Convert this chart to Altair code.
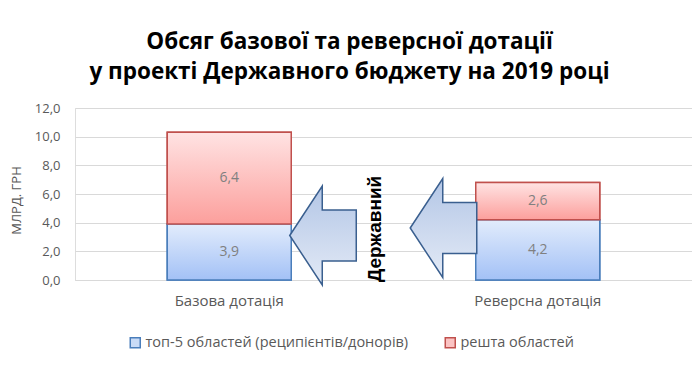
import altair as alt
import pandas as pd

# ---- data ----
categories = ["Базова дотація", "Реверсна дотація"]
top5_values = [3.9, 4.2]
rest_values = [6.4, 2.6]
series_names = ["топ-5 областей (реципієнтів/донорів)", "решта областей"]
title_lines = ["Обсяг базової та реверсної дотації", "у проекті Державного бюджету на 2019 році"]
y_title = "МЛРД. ГРН"
y_ticks = [0, 2, 4, 6, 8, 10, 12]
side_text = "Державний"

rows = []
for c, a, b in zip(categories, top5_values, rest_values):
    rows.append({"cat": c, "series": series_names[0], "y0": 0.0, "y1": a, "v": a})
    rows.append({"cat": c, "series": series_names[1], "y0": a, "y1": a + b, "v": b})
df = pd.DataFrame(rows)

FONT = "Open Sans"
GRAY = "#595959"

blue_grad = alt.LinearGradient(
    gradient="linear", x1=0, y1=0, x2=0, y2=1,
    stops=[alt.GradientStop(offset=0, color="#e2ecfc"), alt.GradientStop(offset=1, color="#a3c1f6")])
red_grad = alt.LinearGradient(
    gradient="linear", x1=0, y1=0, x2=0, y2=1,
    stops=[alt.GradientStop(offset=0, color="#ffe3e3"), alt.GradientStop(offset=1, color="#fc9f9c")])
arrow_grad = alt.LinearGradient(
    gradient="linear", x1=0, y1=0, x2=0, y2=1,
    stops=[alt.GradientStop(offset=0, color="#b3c6e6"), alt.GradientStop(offset=1, color="#e3eaf6")])

x_axis = alt.Axis(labelAngle=0, ticks=False, domainColor="#d9d9d9", labelColor=GRAY,
                  labelFont=FONT, labelFontSize=15, labelPadding=13, grid=False)
x_scale = alt.Scale(paddingInner=0, paddingOuter=0)
y_axis = alt.Axis(values=y_ticks, tickCount=7,
                  labelExpr="replace(format(datum.value, '.1f'), '.', ',')",
                  labelOverlap=False, labelFlush=False,
                  domain=False, ticks=False, gridColor="#d9d9d9", labelColor=GRAY,
                  labelFont=FONT, labelFontSize=13, labelPadding=15,
                  titleColor=GRAY, titleFont=FONT, titleFontSize=13, titleFontWeight="normal",
                  titleX=-59, titleY=92, titleBaseline="middle", titleAngle=270)
y_scale = alt.Scale(domain=[0, 12])


def X():
    return alt.X("cat:N", sort=categories, title=None, scale=x_scale, axis=x_axis)


def Y(field):
    return alt.Y(field, scale=y_scale, title=y_title, axis=y_axis)


base = alt.Chart(df)

legend_bars = base.mark_bar(size=124, strokeWidth=1.5).encode(
    x=X(),
    y=Y("y1:Q"),
    y2="y0:Q",
    fill=alt.Fill("series:N", sort=series_names,
                  scale=alt.Scale(domain=series_names, range=["#c9dbf6", "#fbc3c3"]),
                  legend=alt.Legend(title=None, orient="none", direction="horizontal",
                                    legendX=53, legendY=227, symbolType="square", symbolSize=100,
                                    symbolStrokeWidth=1.5, labelFont=FONT, labelFontSize=14.5,
                                    labelColor=GRAY, columnPadding=33, labelOffset=3,
                                    labelLimit=400)),
    stroke=alt.Stroke("series:N", sort=series_names,
                      scale=alt.Scale(domain=series_names, range=["#4a7ebb", "#c0504d"]),
                      legend=None),
)

blue_bars = base.transform_filter(alt.datum.series == series_names[0]).mark_bar(
    size=124, fill=blue_grad, stroke="#4a7ebb", strokeWidth=1.5
).encode(x=X(), y=Y("y1:Q"), y2="y0:Q")

red_bars = base.transform_filter(alt.datum.series == series_names[1]).mark_bar(
    size=124, fill=red_grad, stroke="#c0504d", strokeWidth=1.5
).encode(x=X(), y=Y("y1:Q"), y2="y0:Q")

labels = base.transform_calculate(
    mid="(datum.y0 + datum.y1) / 2",
    lab="replace(format(datum.v, '.1f'), '.', ',')"
).mark_text(font=FONT, fontSize=14, color="#808080").encode(
    x=X(), y=Y("mid:Q"), text="lab:N")

arrow_path = "M -0.672 0 L -0.015 -1 L -0.015 -0.515 L 0.672 -0.515 L 0.672 0.515 L -0.015 0.515 L -0.015 1 Z"
arrow_df = pd.DataFrame({"arrow": ["a1", "a2"]})

arrow1 = alt.Chart(arrow_df).transform_filter(alt.datum.arrow == "a1").mark_point(
    shape=arrow_path, size=9801, filled=True, fill=arrow_grad, stroke="#3a5f8f",
    strokeWidth=1.5, opacity=1, fillOpacity=1
).encode(x=alt.value(248), y=alt.value(127.5))
arrow2 = alt.Chart(arrow_df).transform_filter(alt.datum.arrow == "a2").mark_point(
    shape=arrow_path, size=9801, filled=True, fill=arrow_grad, stroke="#3a5f8f",
    strokeWidth=1.5, opacity=1, fillOpacity=1
).encode(x=alt.value(368.5), y=alt.value(120))

side = alt.Chart(pd.DataFrame({"t": [side_text]})).mark_text(
    angle=270, font="Liberation Sans", fontSize=19, fontWeight="bold", color="black"
).encode(x=alt.value(300), y=alt.value(121), text="t:N")

chart = alt.layer(legend_bars, blue_bars, red_bars, labels, arrow1, arrow2, side).properties(
    width=617, height=172,
    autosize=alt.AutoSizeParams(type="none"),
    padding={"left": 67, "top": 100, "right": 0, "bottom": 70},
    title=alt.Title(text=title_lines, font=FONT, fontSize=22.5, fontWeight="bold", color="black",
                    anchor="middle", dx=-34, offset=19, lineHeight=30),
).configure_view(stroke=None).configure(background="white")

chart.save("out.html", embed_options={"renderer": "svg", "actions": False})
